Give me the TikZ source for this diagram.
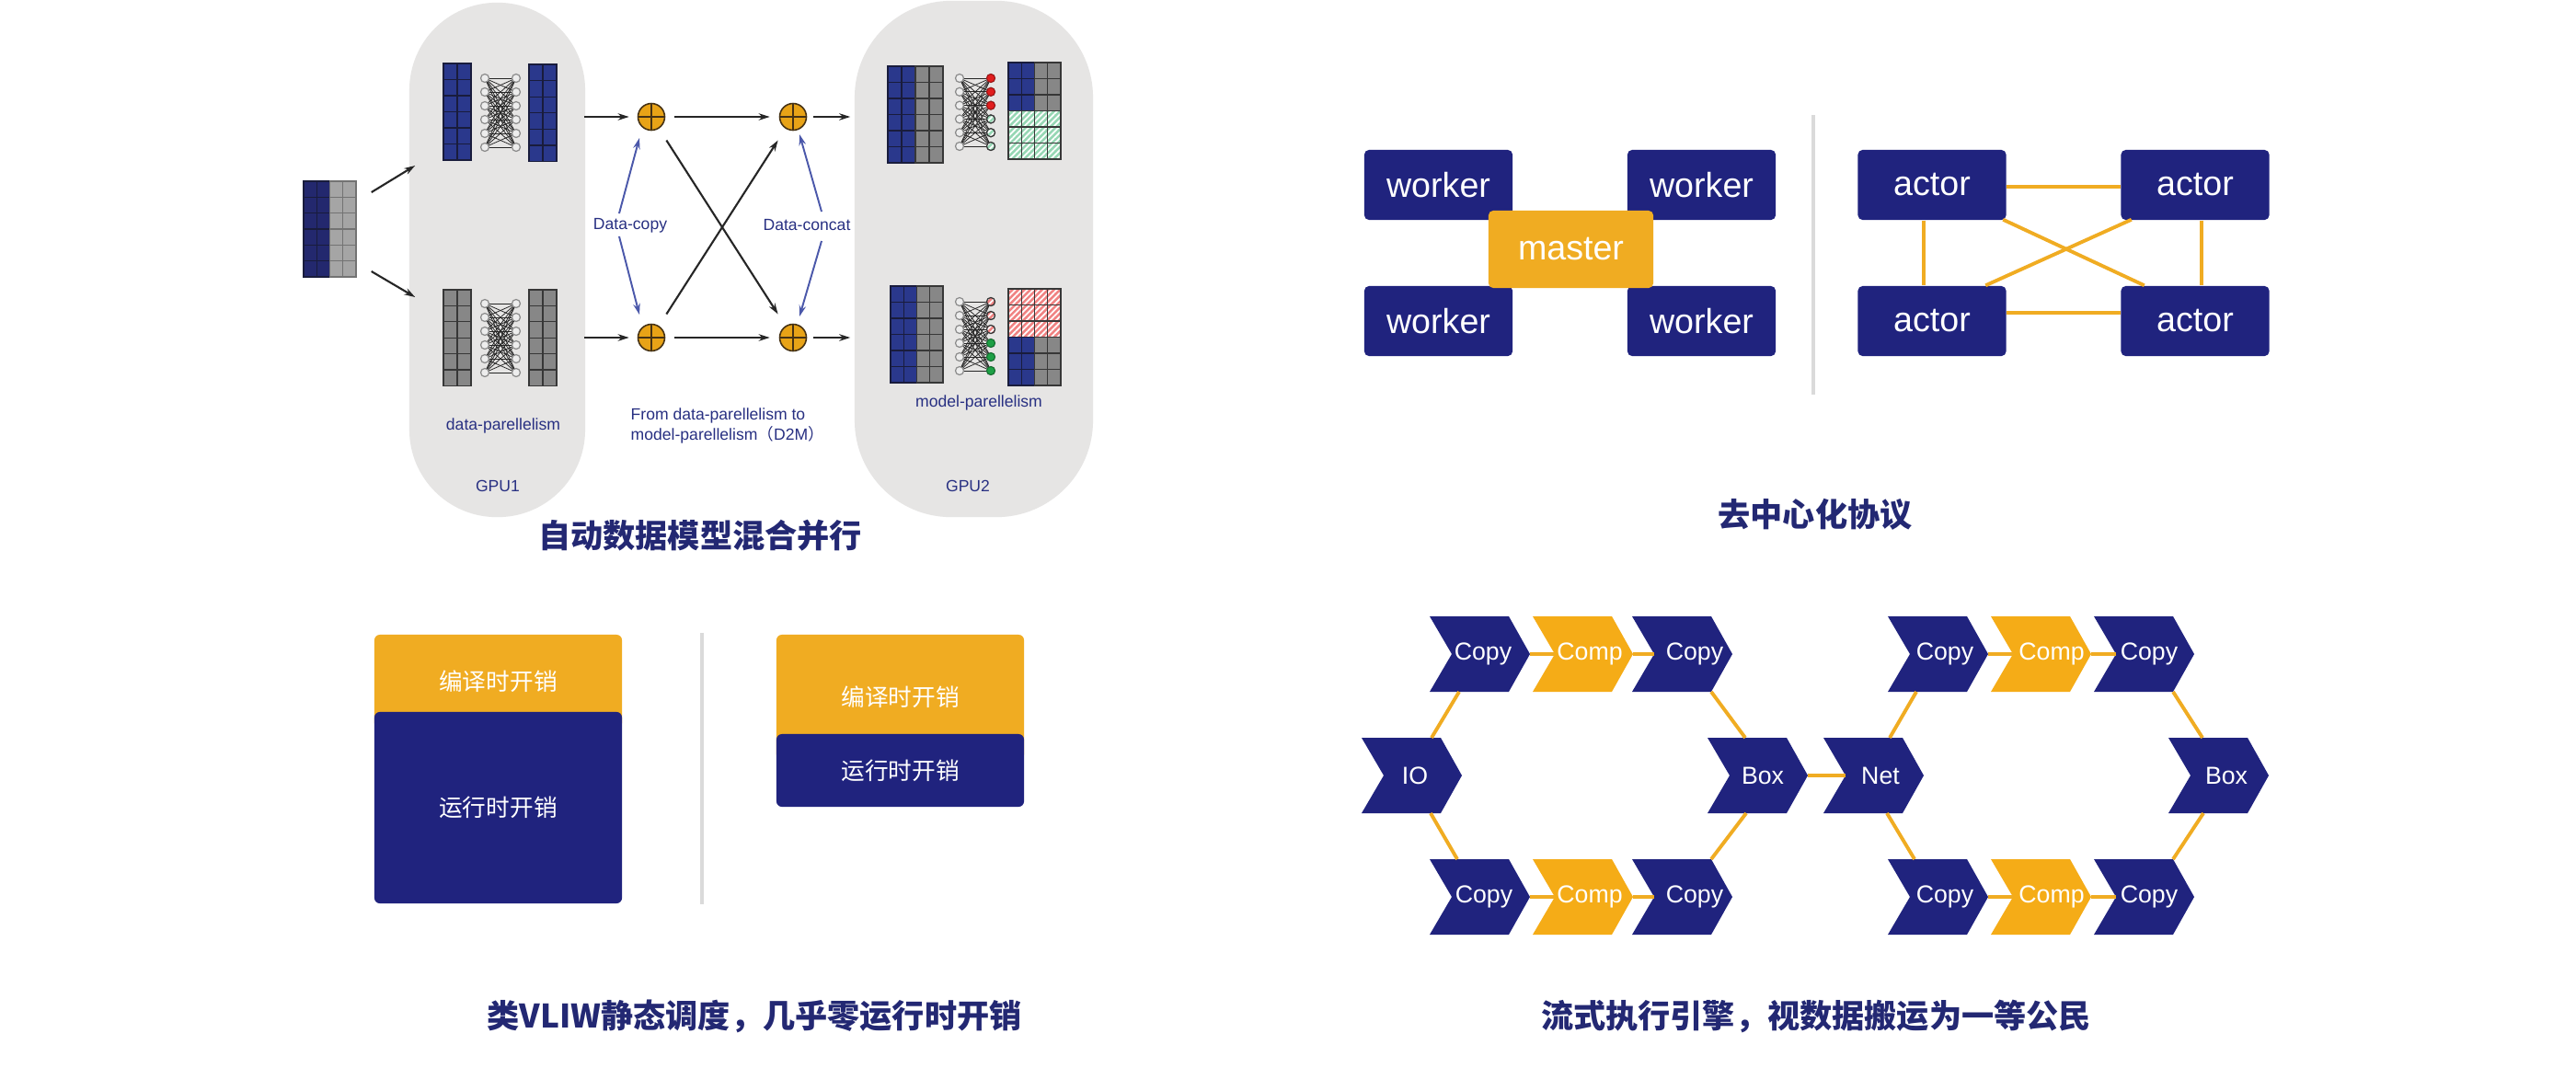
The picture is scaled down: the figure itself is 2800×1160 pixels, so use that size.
\documentclass[tikz,border=0pt]{standalone}
\usepackage{fontspec}
\setmainfont{Liberation Sans}
\newfontfamily\cjk{Noto Sans CJK SC}
\usetikzlibrary{arrows.meta,patterns.meta}

\definecolor{navy}{RGB}{32,35,126}
\definecolor{orng}{RGB}{240,172,34}
\definecolor{corng}{RGB}{245,172,23}
\definecolor{capgray}{RGB}{230,229,228}
\definecolor{mblue}{RGB}{42,56,140}
\definecolor{mline}{RGB}{25,28,60}
\definecolor{mgray}{RGB}{135,135,135}
\definecolor{gline}{RGB}{55,55,55}
\definecolor{inblue}{RGB}{35,40,110}
\definecolor{ingray}{RGB}{165,165,165}
\definecolor{plusorng}{RGB}{232,163,23}
\definecolor{plusline}{RGB}{70,50,20}
\definecolor{arrblue}{RGB}{75,88,170}
\definecolor{txtblue}{RGB}{40,48,130}
\definecolor{divgray}{RGB}{218,218,218}
\definecolor{hgfill}{RGB}{150,215,180}
\definecolor{hrfill}{RGB}{240,130,130}
\definecolor{nred}{RGB}{225,30,30}
\definecolor{ngreen}{RGB}{30,160,70}
\definecolor{titlenavy}{RGB}{35,40,115}

% cells: x0 y0 cw ch cols rows style
\newcommand\cells[7]{%
  \foreach \i in {#5}{\foreach \j in {#6}{%
    \path[#7] ({#1+(\i-1)*#3},{#2+(\j-1)*#4}) rectangle ++(#3,#4);}}}
% net: xl xr ytop dy
\newcommand\nnet[4]{%
  \foreach \a in {0,...,5}{\foreach \b in {0,...,5}{%
    \draw[netline] (#1,{#3+\a*#4}) -- (#2,{#3+\b*#4});}}
  \foreach \a in {0,...,5}{%
    \path[nnode] (#1,{#3+\a*#4}) circle[radius=4.5];
    \path[nnode] (#2,{#3+\a*#4}) circle[radius=4.5];}}
% chevron: name L cy tx colour text
\newcommand\chev[6]{%
  \fill[#5] (#2,{#3-41}) -- ({#2+86},{#3-41}) -- ({#2+109},#3) -- ({#2+86},{#3+41})
     -- (#2,{#3+41}) -- ({#2+24},#3) -- cycle;
  \node[chevtext] (#1) at (#4,#3) {#6};
  \coordinate (#1-tip) at ({#2+109},#3);
  \coordinate (#1-notch) at ({#2+24},#3);
  \coordinate (#1-nw) at (#2,{#3-41});
  \coordinate (#1-ne) at ({#2+86},{#3-41});
  \coordinate (#1-sw) at (#2,{#3+41});
  \coordinate (#1-se) at ({#2+86},{#3+41});}

\begin{document}
\begin{tikzpicture}[x=0.01cm,y=-0.01cm,
  capsule/.style={rectangle,fill=capgray,draw=none,inner sep=0},
  cellblue/.style={fill=mblue,draw=mline,line width=0.35pt},
  cellgray/.style={fill=mgray,draw=gline,line width=0.35pt},
  cellinb/.style={fill=inblue,draw=mline,line width=0.35pt},
  celling/.style={fill=ingray,draw=gline!70,line width=0.35pt},
  cellhg/.style={preaction={fill=hgfill},pattern={Lines[angle=45,distance=1.3pt,line width=0.5pt]},pattern color=white,draw=gline,line width=0.35pt},
  cellhr/.style={preaction={fill=hrfill},pattern={Lines[angle=45,distance=1.3pt,line width=0.5pt]},pattern color=white,draw=gline,line width=0.35pt},
  netline/.style={line width=0.22pt,black!85},
  nnode/.style={fill=white!93!black,draw=black!45,line width=0.35pt},
  plusnode/.style={circle,minimum size=0.29cm,inner sep=0,fill=plusorng,draw=plusline,line width=0.45pt,
    path picture={\draw[plusline,line width=0.45pt] (path picture bounding box.north) -- (path picture bounding box.south)
      (path picture bounding box.west) -- (path picture bounding box.east);}},
  arr/.style={-{Stealth[length=0.12cm,width=0.075cm]},line width=0.6pt,black!85},
  barr/.style={-{Stealth[length=0.12cm,width=0.075cm]},line width=0.55pt,arrblue},
  tsmall/.style={font=\fontsize{5}{4.6}\selectfont,text=txtblue,inner sep=0},
  navybox/.style={rectangle,rounded corners=0.05cm,fill=navy,text=white,minimum width=1.61cm,minimum height=0.76cm,
    font=\fontsize{10.7}{12}\selectfont,inner sep=0},
  masterbox/.style={navybox,fill=orng,minimum width=1.79cm,minimum height=0.84cm},
  oline/.style={line width=1.1pt,orng},
  divider/.style={line width=1.1pt,divgray},
  titletext/.style={font=\cjk\bfseries\fontsize{10}{12}\selectfont,text=titlenavy,inner sep=0},
  costo/.style={rectangle,rounded corners=0.06cm,fill=orng,text=white,minimum width=2.69cm,inner sep=0,
    font=\cjk\fontsize{7.3}{9}\selectfont},
  costb/.style={costo,fill=navy},
  chevtext/.style={text=white,font=\fontsize{7.6}{9}\selectfont,inner sep=0,minimum height=0.82cm},
]
\fill[white] (0,0) rectangle (2800,1160);
\useasboundingbox (0,0) rectangle (2800,1160);

% ================= panel 1: hybrid parallelism =================
\node[capsule,minimum width=1.91cm,minimum height=5.59cm,rounded corners=0.95cm] (gpu1) at (540.5,282.5) {};
\node[capsule,minimum width=2.59cm,minimum height=5.61cm,rounded corners=1.05cm] (gpu2) at (1058.5,281.5) {};

% input matrix
\node[inner sep=0,minimum width=0.57cm,minimum height=1.04cm] (inmat) at (358.5,249) {};
\cells{330}{197}{14.25}{17.33}{1,2}{1,...,6}{cellinb}
\cells{330}{197}{14.25}{17.33}{3,4}{1,...,6}{celling}

% GPU1 contents
\cells{482}{69}{15}{17.5}{1,2}{1,...,6}{cellblue}
\cells{575}{70}{15}{17.6}{1,2}{1,...,6}{cellblue}
\nnet{527}{561}{85}{15}
\cells{482}{315}{15}{17.4}{1,2}{1,...,6}{cellgray}
\cells{575}{315}{15}{17.4}{1,2}{1,...,6}{cellgray}
\nnet{527}{561}{330}{15}

% GPU2 contents
\cells{965}{72}{15}{17.5}{1,2}{1,...,6}{cellblue}
\cells{965}{72}{15}{17.5}{3,4}{1,...,6}{cellgray}
\nnet{1043}{1077}{85}{14.8}
\foreach \a in {0,1,2}{\path[fill=nred,draw=nred!70!black,line width=0.3pt] (1077,{85+\a*14.8}) circle[radius=4.5];}
\foreach \a in {3,4,5}{\path[cellhg] (1077,{85+\a*14.8}) circle[radius=4.5];}
\cells{1096}{68}{14.25}{17.5}{1,2}{1,2,3}{cellblue}
\cells{1096}{68}{14.25}{17.5}{3,4}{1,2,3}{cellgray}
\cells{1096}{68}{14.25}{17.5}{1,...,4}{4,5,6}{cellhg}

\cells{968}{311}{14.25}{17.5}{1,2}{1,...,6}{cellblue}
\cells{968}{311}{14.25}{17.5}{3,4}{1,...,6}{cellgray}
\nnet{1043}{1077}{328}{15}
\foreach \a in {0,1,2}{\path[cellhr] (1077,{328+\a*15}) circle[radius=4.5];}
\foreach \a in {3,4,5}{\path[fill=ngreen,draw=ngreen!70!black,line width=0.3pt] (1077,{328+\a*15}) circle[radius=4.5];}
\cells{1096}{314}{14.25}{17.5}{1,...,4}{1,2,3}{cellhr}
\cells{1096}{314}{14.25}{17.5}{1,2}{4,5,6}{cellblue}
\cells{1096}{314}{14.25}{17.5}{3,4}{4,5,6}{cellgray}

% plus nodes
\node[plusnode] (p1) at (708,127) {};
\node[plusnode] (p2) at (708,367) {};
\node[plusnode] (p3) at (862,127) {};
\node[plusnode] (p4) at (862,367) {};

% labels
\node[tsmall] (dc) at (685,245) {Data-copy};
\node[tsmall] (dcc) at (877,245) {Data-concat};
\node[tsmall,align=left,anchor=west] (d2m) at (685,463) {From data-parellelism to\\model-parellelism{\cjk （}D2M{\cjk ）}};
\node[tsmall] (dpl) at (547,463) {data-parellelism};
\node[tsmall] (gl1) at (541,528) {GPU1};
\node[tsmall] (mpl) at (1064,438) {model-parellelism};
\node[tsmall] (gl2) at (1052,528) {GPU2};

% arrows
\draw[arr] ([shift={(16,-40)}]inmat.east) -- ([shift={(7,-102.5)}]gpu1.west);
\draw[arr] ([shift={(16,46)}]inmat.east) -- ([shift={(7,40.5)}]gpu1.west);
\draw[arr] ([xshift=-0.02cm]gpu1.east |- p1) -- ([xshift=-0.09cm]p1.west);
\draw[arr] ([xshift=-0.02cm]gpu1.east |- p2) -- ([xshift=-0.09cm]p2.west);
\draw[arr,shorten <=0.1cm,shorten >=0.1cm] (p1) -- (p3);
\draw[arr,shorten <=0.1cm,shorten >=0.1cm] (p2) -- (p4);
\draw[arr,shorten <=0.07cm] (p3) -- ([xshift=-0.04cm]gpu2.west |- p3);
\draw[arr,shorten <=0.07cm] (p4) -- ([xshift=-0.04cm]gpu2.west |- p4);
\draw[arr,shorten <=0.15cm,shorten >=0.15cm] (p1) -- (p4);
\draw[arr,shorten <=0.15cm,shorten >=0.15cm] (p2) -- (p3);
\draw[barr] ([shift={(-12,-13)}]dc.center) -- ([shift={(-13,23)}]p1.center);
\draw[barr] ([shift={(-12,12)}]dc.center) -- ([shift={(-13,-25)}]p2.center);
\draw[barr] ([shift={(16,-15)}]dcc.center) -- ([shift={(7,19)}]p3.center);
\draw[barr] ([shift={(16,17)}]dcc.center) -- ([shift={(7,-23)}]p4.center);

\node[titletext] (t1) at (761,582) {自动数据模型混合并行};

% ================= panel 2: decentralised =================
\node[navybox] (w1) at (1563.5,201) {worker};
\node[navybox] (w2) at (1849.5,201) {worker};
\node[navybox] (w3) at (1563.5,349) {worker};
\node[navybox] (w4) at (1849.5,349) {worker};
\node[masterbox] (ms) at (1707.5,271) {master};

\draw[divider] (1971,125) -- (1971,429);

\node[navybox] (a1) at (2100,201) {actor};
\node[navybox] (a2) at (2386,201) {actor};
\node[navybox] (a3) at (2100,349) {actor};
\node[navybox] (a4) at (2386,349) {actor};
\draw[oline] ([shift={(0,2)}]a1.east) -- ([shift={(0,2)}]a2.west);
\draw[oline] ([shift={(0,-9)}]a3.east) -- ([shift={(0,-9)}]a4.west);
\draw[oline] ([shift={(-9,0)}]a1.south) -- ([shift={(-9,0)}]a3.north);
\draw[oline] ([shift={(7,0)}]a2.south) -- ([shift={(7,0)}]a4.north);
\draw[oline] ([shift={(-4,-1)}]a1.south east) -- ([shift={(26,0)}]a4.north west);
\draw[oline] ([shift={(12,-1)}]a2.south west) -- ([shift={(-23,0)}]a3.north east);

\node[titletext] (t2) at (1973,559) {去中心化协议};

% ================= panel 3: VLIW =================
\node[costo,minimum height=1.02cm] (ct1) at (541.5,741) {编译时开销};
\node[costb,minimum height=2.08cm] (rt1) at (541.5,878) {运行时开销};
\draw[divider] (763,688) -- (763,983);
\node[costo,minimum height=1.36cm] (ct2) at (978.5,758) {编译时开销};
\node[costb,minimum height=0.79cm] (rt2) at (978.5,837.5) {运行时开销};

\node[titletext] (t3) at (820,1105) {类VLIW静态调度，几乎零运行时开销};

% ================= panel 4: streaming =================
\chev{io}{1480}{843}{1538}{navy}{IO}
\chev{c1}{1554}{711}{1612}{navy}{Copy}
\chev{m1}{1666}{711}{1728}{corng}{Comp}
\chev{c2}{1774}{711}{1842}{navy}{Copy}
\chev{c3}{1554}{975}{1613}{navy}{Copy}
\chev{m2}{1666}{975}{1728}{corng}{Comp}
\chev{c4}{1774}{975}{1842}{navy}{Copy}
\chev{bx1}{1856}{843}{1916}{navy}{Box}
\chev{net}{1982}{843}{2044}{navy}{Net}
\chev{c5}{2052}{711}{2114}{navy}{Copy}
\chev{m3}{2164}{711}{2230}{corng}{Comp}
\chev{c6}{2276}{711}{2336}{navy}{Copy}
\chev{c7}{2052}{975}{2114}{navy}{Copy}
\chev{m4}{2164}{975}{2230}{corng}{Comp}
\chev{c8}{2276}{975}{2336}{navy}{Copy}
\chev{bx2}{2357}{843}{2420}{navy}{Box}

\draw[oline] (c1-tip) -- (m1-notch);
\draw[oline] (m1-tip) -- (c2-notch);
\draw[oline] (c3-tip) -- (m2-notch);
\draw[oline] (m2-tip) -- (c4-notch);
\draw[oline] (c5-tip) -- (m3-notch);
\draw[oline] (m3-tip) -- (c6-notch);
\draw[oline] (c7-tip) -- (m4-notch);
\draw[oline] (m4-tip) -- (c8-notch);
\draw[oline] (bx1-tip) -- (net-notch);
\draw[oline] ([shift={(-10,0)}]io-ne) -- ([shift={(32,0)}]c1-sw);
\draw[oline] ([shift={(-11,0)}]io-se) -- ([shift={(30,0)}]c3-nw);
\draw[oline] (c2-se) -- ([shift={(41,0)}]bx1-nw);
\draw[oline] ([shift={(42,0)}]bx1-sw) -- (c4-ne);
\draw[oline] ([shift={(-14,0)}]net-ne) -- ([shift={(31,0)}]c5-sw);
\draw[oline] ([shift={(-17,0)}]net-se) -- ([shift={(29,0)}]c7-nw);
\draw[oline] (c6-se) -- ([shift={(37,0)}]bx2-nw);
\draw[oline] ([shift={(38,0)}]bx2-sw) -- (c8-ne);

\node[titletext] (t4) at (1974,1105) {流式执行引擎，视数据搬运为一等公民};
\end{tikzpicture}
\end{document}
